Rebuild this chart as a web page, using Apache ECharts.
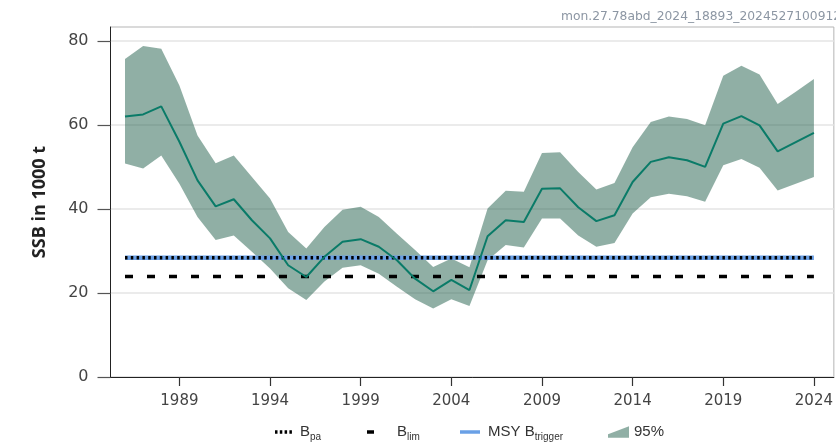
<!DOCTYPE html>
<html>
<head>
<meta charset="utf-8">
<script src="https://cdn.jsdelivr.net/npm/echarts@6/dist/echarts.min.js"></script>
<style>html,body{margin:0;padding:0;background:#fff}#c{width:836px;height:445px}</style>
</head>
<body>
<div id="c"></div>
<script>
const years = [1986,1987,1988,1989,1990,1991,1992,1993,1994,1995,1996,1997,1998,1999,2000,2001,2002,2003,2004,2005,2006,2007,2008,2009,2010,2011,2012,2013,2014,2015,2016,2017,2018,2019,2020,2021,2022,2023,2024];
const ssb = [62.0,62.5,64.4,56.0,46.8,40.6,42.3,37.3,33.0,26.6,23.8,28.6,32.2,32.8,31.0,27.8,23.4,20.4,23.1,20.7,33.5,37.3,36.9,44.8,44.9,40.4,37.1,38.5,46.4,51.2,52.3,51.6,50.0,60.3,62.1,59.9,53.7,55.9,58.1];
const ssbHigh = [75.7,78.8,78.1,69.4,57.5,50.9,52.7,47.6,42.5,34.5,30.6,35.7,39.8,40.5,38.1,34.1,30.2,26.2,28.2,26.1,40.1,44.3,44.1,53.3,53.5,48.8,44.6,46.2,54.7,60.7,62.0,61.4,59.9,71.7,74.1,72.0,65.0,67.9,70.9];
const ssbLow = [50.8,49.6,52.7,46.0,38.1,32.6,33.7,29.8,25.8,21.1,18.3,22.7,26.0,26.6,24.6,21.5,18.5,16.3,18.5,16.9,27.8,31.4,30.8,37.7,37.7,33.7,31.0,31.9,38.9,42.8,43.6,43.0,41.7,50.4,51.9,49.8,44.4,46.0,47.6];
const Bpa = 28.4;
const Blim = 23.9;
const MSYBtrigger = 28.4;
const xTickLabels = [1989,1994,1999,2004,2009,2014,2019,2024];
const yTickLabels = [0,20,40,60,80];

const refSpan = [years[0], years[years.length-1]];
const legendRich = {
  b: {fontFamily: 'Liberation Sans', fontSize: 15, color: '#333', lineHeight: 20},
  s: {fontFamily: 'Liberation Sans', fontSize: 10, color: '#333', lineHeight: 12, verticalAlign: 'bottom'}
};
function mkLegend(name, left, w, h, icon, fmt, padLeft) {
  const rich = {
    b: Object.assign({}, legendRich.b, {padding: [0,0,0,padLeft]}),
    s: legendRich.s
  };
  return {
    data: [{name: name, icon: icon}],
    left: left, top: 422, padding: 0,
    itemWidth: w, itemHeight: h,
    selectedMode: false,
    itemStyle: {borderWidth: 0},
    formatter: () => fmt,
    textStyle: {rich: rich, fontFamily: 'Liberation Sans', fontSize: 15, color: '#333', lineHeight: 20}
  };
}

const chart = echarts.init(document.getElementById('c'));
chart.setOption({
  animation: false,
  backgroundColor: '#fff',
  grid: {left: 110.5, right: 2, top: 27, bottom: 68, show: true, borderColor: '#b5b5b5', borderWidth: 1, containLabel: false},
  graphic: [{
    type: 'text', x: 561, y: 11,
    style: {text: 'mon.27.78abd_2024_18893_2024527100912', font: '12.3px "DejaVu Sans"', fill: '#8c96a3', textBaseline: 'top'}
  }],
  xAxis: {
    type: 'value', min: 1985.2, max: 2025.1,
    axisLine: {show: true, onZero: false, lineStyle: {color: '#222', width: 1}},
    axisTick: {show: true, length: 9, customValues: xTickLabels, lineStyle: {color: '#333', width: 1.2}},
    axisLabel: {customValues: xTickLabels, margin: 17, fontFamily: 'DejaVu Sans', fontSize: 15, color: '#444', formatter: v => String(v)},
    splitLine: {show: false}
  },
  yAxis: {
    type: 'value', min: 0, max: 83.3,
    name: 'SSB in 1000 t', nameLocation: 'middle', nameGap: 62,
    nameTextStyle: {fontFamily: 'Open Sans', fontWeight: 'bold', fontSize: 18, color: '#222'},
    axisLine: {show: true, lineStyle: {color: '#222', width: 1}},
    axisTick: {show: true, length: 13, customValues: yTickLabels, lineStyle: {color: '#555', width: 1.2}},
    axisLabel: {customValues: yTickLabels, margin: 22, fontFamily: 'DejaVu Sans', fontSize: 16, color: '#444'},
    splitLine: {show: true, lineStyle: {color: '#e4e4e4', width: 1.5}}
  },
  legend: [
    mkLegend('Bpa', 275, 17, 3.5, 'path://M0,0h2.5v3.5h-2.5z M4.8,0h2.5v3.5h-2.5z M9.6,0h2.5v3.5h-2.5z M14.4,0h2.5v3.5h-2.5z', '{b|B}{s|pa}', 3),
    mkLegend('Blim', 367, 7, 3.5, 'rect', '{b|B}{s|lim}', 18),
    mkLegend('MSY Btrigger', 460, 20, 3.5, 'rect', '{b|MSY B}{s|trigger}', 3),
    mkLegend('95%', 608, 21, 11.5, 'path://M0,8L21,0L21,11.5L0,11.5Z', '{b|95%}', 0)
  ],
  series: [
    {
      name: '95%', type: 'custom', clip: true,
      itemStyle: {color: 'rgba(33,95,75,0.5)'},
      data: years.map((y, i) => [y, ssbLow[i], ssbHigh[i]]),
      encode: {x: 0, y: [1, 2]},
      renderItem: function (params, api) {
        if (params.dataIndex !== 0) return null;
        const pts = [];
        for (let i = 0; i < years.length; i++) pts.push(api.coord([years[i], ssbHigh[i]]));
        for (let i = years.length - 1; i >= 0; i--) pts.push(api.coord([years[i], ssbLow[i]]));
        return {type: 'polygon', shape: {points: pts}, style: {fill: 'rgba(33,95,75,0.5)'}};
      },
      z: 1
    },
    {
      name: 'MSY Btrigger', type: 'line', symbol: 'none', silent: true,
      data: refSpan.map(x => [x, MSYBtrigger]),
      itemStyle: {color: '#6aa0e6'},
      lineStyle: {color: '#6aa0e6', width: 4.5}, z: 2
    },
    {
      name: 'Bpa', type: 'line', symbol: 'none', silent: true,
      data: refSpan.map(x => [x, Bpa]),
      itemStyle: {color: '#000'},
      lineStyle: {color: '#000', width: 3.5, type: [2.5, 3.3]}, z: 3
    },
    {
      name: 'Blim', type: 'line', symbol: 'none', silent: true,
      data: refSpan.map(x => [x, Blim]),
      itemStyle: {color: '#000'},
      lineStyle: {color: '#000', width: 3.5, type: [8, 14]}, z: 3
    },
    {
      name: 'SSB', type: 'line', symbol: 'none', silent: true,
      data: years.map((y, i) => [y, ssb[i]]),
      itemStyle: {color: '#0a7b68'},
      lineStyle: {color: '#0a7b68', width: 2}, z: 4
    }
  ]
});
</script>
</body>
</html>
